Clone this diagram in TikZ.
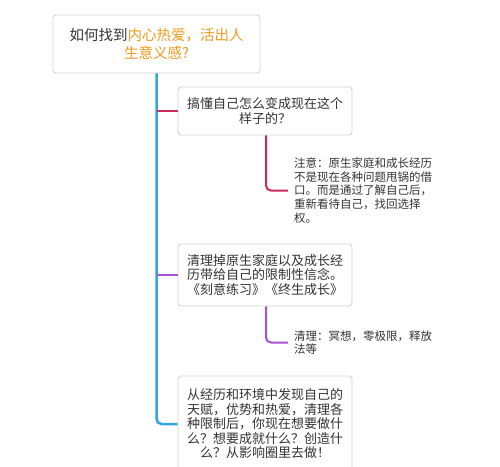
\documentclass[tikz,border=0pt]{standalone}
\usepackage{fontspec}
\setmainfont{Noto Sans CJK SC}
\definecolor{txt}{HTML}{333333}
\definecolor{orng}{HTML}{F29A1F}
\definecolor{bluel}{HTML}{33A8DF}
\definecolor{redl}{HTML}{C92A5A}
\definecolor{purl}{HTML}{A650D4}
\definecolor{boxb}{HTML}{D2D2D2}
\begin{document}
\begin{tikzpicture}[x=1pt,y=-1pt,
  box/.style={draw=boxb, line width=0.9pt, fill=white, rounded corners=3pt, inner sep=0pt, align=center, text=txt},
  note/.style={anchor=west, inner sep=0pt, align=left, text=txt},
  conn/.style={line width=2pt, rounded corners=5pt}]
\fill[white] (0,0) rectangle (500,466);
\useasboundingbox (0,0) rectangle (500,466);
\clip (0,0) rectangle (500,466);
\node[box, minimum width=207pt, minimum height=58pt, font=\fontsize{14.5}{18.5}\selectfont] (root) at (156.5,44)
  {如何找到\textcolor{orng}{内心热爱，活出人}\\\textcolor{orng}{生意义感?}};
\node[box, minimum width=174pt, minimum height=48pt, font=\fontsize{13}{15.5}\selectfont] (b1) at (265,111)
  {搞懂自己怎么变成现在这个\\样子的？};
\node[box, minimum width=174pt, minimum height=62pt, font=\fontsize{13}{14.5}\selectfont] (b2) at (265,275)
  {清理掉原生家庭以及成长经\\历带给自己的限制性信念。\\《刻意练习》《终生成长》};
\node[box, minimum width=174pt, minimum height=96pt, font=\fontsize{13}{14.5}\selectfont] (b3) at (265,424)
  {从经历和环境中发现自己的\\天赋，优势和热爱，清理各\\种限制后，你现在想要做什\\么？想要成就什么？创造什\\么？从影响圈里去做！};
\node[note, font=\fontsize{11.5}{13.7}\selectfont] (n1) at (294,190.5)
  {注意：原生家庭和成长经历\\不是现在各种问题甩锅的借\\口。而是通过了解自己后，\\重新看待自己，找回选择\\权。};
\node[note, font=\fontsize{11.5}{13.7}\selectfont] (n2) at (294,342.5)
  {清理：冥想，零极限，释放\\法等};
\coordinate (n1in) at ([xshift=-6pt]n1.west);
\coordinate (n2in) at ([xshift=-6pt]n2.west);
\begin{scope}[on background layer/.style={}]
\draw[conn, bluel, line width=2.5pt] (root.south) |- (b3.west);
\draw[conn, redl, rounded corners=0pt] (root.south |- b1.west) -- (b1.west);
\draw[conn, purl, rounded corners=0pt] (root.south |- b2.west) -- (b2.west);
\draw[conn, redl] ([xshift=1pt]b1.south) |- (n1in);
\draw[conn, purl] ([xshift=1pt]b2.south) |- (n2in);
\end{scope}
\end{tikzpicture}
\end{document}
